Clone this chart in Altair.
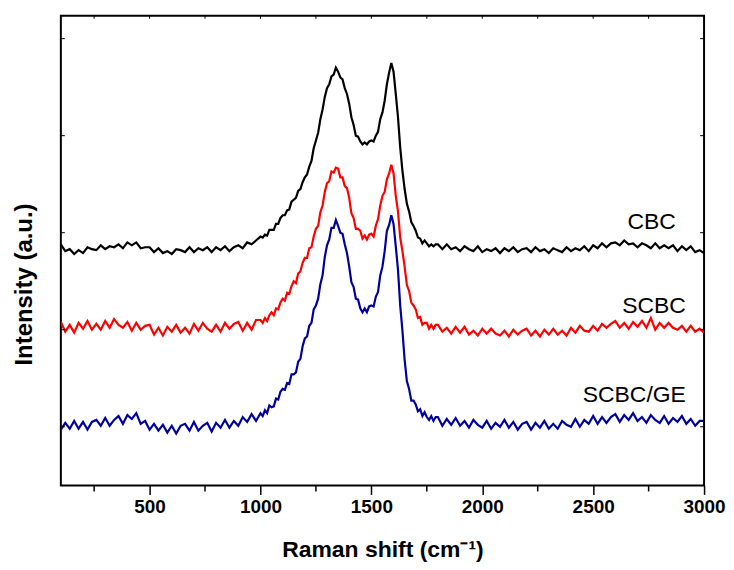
import altair as alt
import pandas as pd

# Sampling grid of the spectra (Raman shift, cm-1)
X_LOW = list(range(100, 1000, 20))     # 45 points
X_MID = list(range(1000, 1800, 10))    # 80 points
X_HIGH = list(range(1800, 3001, 20))   # 61 points

# CBC (black)
CBC_LOW = [1.88, 1.81, 1.83, 1.78, 1.82, 1.79, 1.85, 1.83, 1.82, 1.87,
           1.83, 1.86, 1.85, 1.88, 1.84, 1.90, 1.87, 1.90, 1.84, 1.85,
           1.85, 1.80, 1.84, 1.79, 1.81, 1.78, 1.83, 1.82, 1.80, 1.85,
           1.80, 1.84, 1.82, 1.85, 1.80, 1.85, 1.82, 1.86, 1.81, 1.85,
           1.87, 1.84, 1.90, 1.88, 1.92]
CBC_MID = [1.96, 1.95, 1.98, 1.97, 2.03, 2.03, 2.03, 2.09, 2.09, 2.15,
           2.18, 2.18, 2.23, 2.24, 2.32, 2.34, 2.36, 2.43, 2.45, 2.52,
           2.57, 2.60, 2.68, 2.74, 2.87, 2.95, 3.03, 3.17, 3.27, 3.40,
           3.49, 3.53, 3.61, 3.63, 3.70, 3.66, 3.60, 3.58, 3.49, 3.43,
           3.33, 3.19, 3.11, 3.00, 2.99, 2.94, 2.91, 2.93, 2.91, 2.94,
           2.95, 2.94, 3.00, 3.04, 3.17, 3.24, 3.36, 3.53, 3.65, 3.75,
           3.66, 3.43, 3.19, 2.88, 2.64, 2.45, 2.30, 2.22, 2.11, 2.07,
           2.02, 1.95, 1.94, 1.89, 1.92, 1.89, 1.86, 1.88, 1.86, 1.88]
CBC_HIGH = [1.88, 1.83, 1.88, 1.83, 1.85, 1.81, 1.86, 1.83, 1.81, 1.86,
            1.80, 1.83, 1.81, 1.84, 1.79, 1.84, 1.81, 1.85, 1.80, 1.83,
            1.84, 1.80, 1.85, 1.81, 1.83, 1.79, 1.84, 1.82, 1.80, 1.85,
            1.81, 1.84, 1.82, 1.86, 1.81, 1.87, 1.84, 1.89, 1.85, 1.89,
            1.90, 1.87, 1.92, 1.88, 1.89, 1.85, 1.89, 1.87, 1.84, 1.89,
            1.84, 1.87, 1.84, 1.87, 1.81, 1.86, 1.82, 1.86, 1.80, 1.82,
            1.79]

# SCBC (red)
SCBC_LOW = [1.08, 0.98, 1.05, 0.97, 1.07, 1.01, 1.09, 1.00, 1.06, 1.00,
            1.09, 1.02, 1.11, 1.05, 1.02, 1.08, 0.99, 1.07, 1.00, 1.04,
            1.05, 0.95, 1.02, 0.94, 1.03, 0.98, 1.05, 0.97, 1.02, 0.96,
            1.06, 0.99, 1.07, 1.01, 0.98, 1.05, 0.98, 1.07, 1.01, 1.06,
            1.08, 0.99, 1.07, 1.00, 1.10]
SCBC_MID = [1.10, 1.07, 1.12, 1.09, 1.15, 1.18, 1.15, 1.22, 1.21, 1.28,
            1.32, 1.30, 1.38, 1.37, 1.45, 1.50, 1.48, 1.58, 1.60, 1.69,
            1.74, 1.74, 1.84, 1.85, 1.96, 2.04, 2.07, 2.21, 2.28, 2.42,
            2.51, 2.53, 2.63, 2.62, 2.67, 2.66, 2.57, 2.57, 2.48, 2.46,
            2.36, 2.20, 2.15, 2.04, 2.04, 2.02, 1.94, 1.97, 1.93, 1.98,
            1.99, 1.96, 2.07, 2.14, 2.28, 2.38, 2.42, 2.55, 2.61, 2.70,
            2.61, 2.38, 2.22, 1.95, 1.81, 1.65, 1.46, 1.40, 1.28, 1.25,
            1.21, 1.12, 1.13, 1.05, 1.07, 1.07, 1.01, 1.05, 1.01, 1.05]
SCBC_HIGH = [1.05, 0.98, 1.02, 0.96, 1.03, 0.97, 1.03, 0.95, 0.99, 0.94,
             1.01, 0.96, 1.01, 0.96, 0.94, 0.99, 0.93, 1.00, 0.95, 0.99,
             1.01, 0.94, 0.99, 0.93, 1.00, 0.95, 1.01, 0.95, 0.99, 0.94,
             1.02, 0.97, 1.04, 0.99, 0.98, 1.04, 0.99, 1.06, 1.02, 1.06,
             1.09, 1.02, 1.07, 1.01, 1.08, 1.03, 1.09, 1.02, 1.12, 1.00,
             1.07, 1.02, 1.07, 1.02, 1.00, 1.04, 0.98, 1.04, 0.98, 1.01,
             0.97]

# SCBC/GE (blue)
GE_LOW = [-0.03, 0.04, -0.02, 0.06, -0.02, 0.05, -0.03, 0.05, 0.07, 0.01,
          0.09, 0.01, 0.07, 0.11, 0.03, 0.12, 0.08, 0.14, 0.03, 0.06,
          -0.03, 0.03, -0.04, 0.02, -0.06, 0.01, -0.07, 0.01, 0.03, -0.04,
          0.05, -0.04, 0.01, 0.04, -0.05, 0.04, -0.01, 0.07, -0.01, 0.06,
          0.01, 0.10, 0.05, 0.13, 0.06]
GE_MID = [0.14, 0.11, 0.17, 0.14, 0.22, 0.20, 0.21, 0.29, 0.28, 0.36,
          0.39, 0.38, 0.45, 0.44, 0.54, 0.54, 0.56, 0.67, 0.70, 0.83,
          0.91, 0.93, 1.04, 1.07, 1.21, 1.25, 1.32, 1.47, 1.56, 1.75,
          1.87, 1.93, 2.05, 2.05, 2.13, 2.07, 2.00, 1.99, 1.88, 1.79,
          1.65, 1.49, 1.44, 1.32, 1.31, 1.22, 1.18, 1.22, 1.18, 1.24,
          1.25, 1.24, 1.34, 1.39, 1.56, 1.65, 1.81, 2.02, 2.08, 2.18,
          2.09, 1.86, 1.62, 1.25, 0.99, 0.69, 0.47, 0.39, 0.27, 0.27,
          0.23, 0.16, 0.18, 0.11, 0.15, 0.10, 0.07, 0.11, 0.06, 0.10]
GE_HIGH = [0.10, 0.01, 0.08, 0.02, 0.09, 0.01, 0.06, -0.01, 0.07, 0.02,
           -0.01, 0.06, -0.02, 0.04, 0.00, 0.07, -0.01, 0.05, -0.03, 0.03,
           0.05, -0.03, 0.04, -0.01, 0.06, -0.02, 0.03, -0.02, 0.06, 0.02,
           0.00, 0.08, 0.00, 0.07, 0.03, 0.11, 0.03, 0.10, 0.04, 0.10,
           0.13, 0.05, 0.12, 0.07, 0.14, 0.06, 0.10, 0.04, 0.12, 0.07,
           0.04, 0.11, 0.03, 0.09, 0.05, 0.11, 0.03, 0.08, 0.01, 0.06,
           0.06]

SERIES = ["CBC", "SCBC", "SCBC/GE"]
COLORS = ["#000000", "#ff0000", "#0000a0"]

LABEL_TEXT = ["CBC", "SCBC", "SCBC/GE"]
LABEL_X = [2873, 2918, 2918]
LABEL_Y = [2.04, 1.17, 0.25]

X_MAJOR = [500, 1000, 1500, 2000, 2500, 3000]
X_MINOR = [250, 750, 1250, 1750, 2250, 2750]
X_TOP = [250, 500, 750, 1000, 1250, 1500, 1750, 2000, 2250, 2500, 2750]
Y_TICKS = [0, 1, 2, 3, 4]

X_DOMAIN = [100, 3000]
Y_DOMAIN = [-0.605, 4.236]

W, H = 645, 471
FONT = "Liberation Sans"

xgrid = X_LOW + X_MID + X_HIGH
rows = []
for name, vals in zip(SERIES, [CBC_LOW + CBC_MID + CBC_HIGH,
                               SCBC_LOW + SCBC_MID + SCBC_HIGH,
                               GE_LOW + GE_MID + GE_HIGH]):
    for xv, yv in zip(xgrid, vals):
        rows.append({"x": xv, "y": yv, "series": name})
df = pd.DataFrame(rows)

xscale = alt.Scale(domain=X_DOMAIN, nice=False, zero=False)
yscale = alt.Scale(domain=Y_DOMAIN, nice=False, zero=False)

lines = alt.Chart(df).mark_line(strokeWidth=2.2, clip=True).encode(
    x=alt.X("x:Q", scale=xscale, axis=alt.Axis(
        values=X_MAJOR, format="d", tickSize=9, tickWidth=1.5, tickColor="black",
        domain=False, grid=False, labelFlush=False, labelOverlap=False,
        labelFont=FONT, labelFontSize=19, labelFontWeight="bold",
        labelColor="black", labelPadding=3,
        title="Raman shift (cm⁻¹)", titleFont=FONT, titleFontSize=23,
        titleFontWeight="bold", titleColor="black", titleY=71,
        titleBaseline="alphabetic")),
    y=alt.Y("y:Q", scale=yscale, axis=alt.Axis(
        values=Y_TICKS, ticks=False, labels=False, domain=False, grid=False,
        title="Intensity (a.u.)", titleFont=FONT, titleFontSize=24,
        titleFontWeight="bold", titleColor="black", titleAngle=270,
        titleX=-29, titleY=269, titleAlign="center",
        titleBaseline="alphabetic")),
    color=alt.Color("series:N", scale=alt.Scale(domain=SERIES, range=COLORS),
                    legend=None),
)

labels = alt.Chart(pd.DataFrame({"x": LABEL_X, "y": LABEL_Y, "t": LABEL_TEXT})).mark_text(
    align="right", baseline="alphabetic", font=FONT, fontSize=23, color="black"
).encode(x="x:Q", y="y:Q", text="t:N")

minor_bottom = alt.Chart(pd.DataFrame({"x": X_MINOR})).mark_rule(
    color="black", strokeWidth=1.5).encode(
    x="x:Q", y=alt.value(H), y2=alt.value(H + 6))

top_ticks = alt.Chart(pd.DataFrame({"x": X_TOP})).mark_rule(
    color="black", strokeWidth=1).encode(
    x="x:Q", y=alt.value(0), y2=alt.value(3))

left_ticks = alt.Chart(pd.DataFrame({"y": Y_TICKS})).mark_rule(
    color="black", strokeWidth=1).encode(
    y="y:Q", x=alt.value(0), x2=alt.value(4))

right_ticks = alt.Chart(pd.DataFrame({"y": Y_TICKS})).mark_rule(
    color="black", strokeWidth=1).encode(
    y="y:Q", x=alt.value(W - 4), x2=alt.value(W))

chart = alt.layer(lines, labels, minor_bottom, top_ticks, left_ticks, right_ticks).properties(
    width=W, height=H,
    autosize=alt.AutoSizeParams(type="none"),
    padding={"left": 53, "top": 7, "right": 22, "bottom": 76},
    background="white",
).configure_view(stroke="black", strokeWidth=2)

chart.save("out.html", embed_options={"renderer": "svg", "actions": False})
